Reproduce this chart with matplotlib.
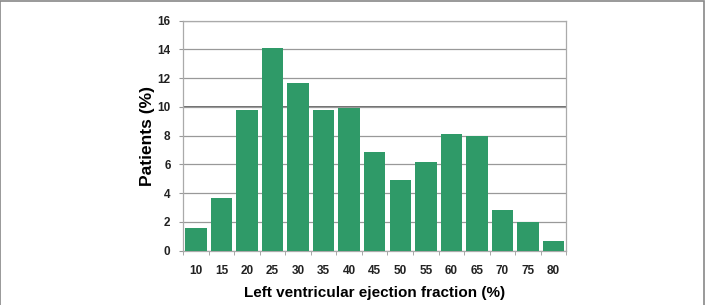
import matplotlib.pyplot as plt
from matplotlib.patches import Rectangle

plt.rcParams["font.family"] = ["Liberation Sans", "DejaVu Sans"]

lvef = ["10", "15", "20", "25", "30", "35", "40", "45", "50", "55", "60", "65", "70", "75", "80"]
patients = [1.6, 3.7, 9.8, 14.1, 11.7, 9.8, 9.9, 6.9, 4.9, 6.2, 8.1, 8.0, 2.8, 2.0, 0.7]

fig = plt.figure(figsize=(7.07, 3.05), dpi=100)
ax = fig.add_axes([0.259, 0.178, 0.542, 0.754])

# 柱子
x = list(range(len(lvef)))
ax.bar(x, patients, width=0.84, color="#2f9a68", zorder=3)

ax.set_xlim(-0.5, len(lvef) - 0.5)
ax.set_ylim(0, 16)
ax.set_yticks(range(0, 17, 2))
ax.set_xticks(x)
ax.set_xticklabels(lvef)
ax.set_xticks([i - 0.5 for i in range(len(lvef) + 1)], minor=True)
ax.tick_params(axis="x", which="major", length=0, pad=10, labelsize=8.5, colors="#222222")
ax.tick_params(axis="x", which="minor", length=3, color="#999999")
ax.tick_params(axis="y", length=3, color="#999999", labelsize=8.5, labelcolor="#222222", pad=6)
for lab in ax.get_xticklabels() + ax.get_yticklabels():
    lab.set_fontweight("bold")

ax.grid(axis="y", color="#999999", linewidth=0.9, zorder=0)
ax.axhline(10, color="#444444", linewidth=1.1, zorder=1)
for s in ax.spines.values():
    s.set_color("#aaaaaa")
    s.set_linewidth(0.9)

ax.set_xlabel("Left ventricular ejection fraction (%)", fontsize=11, fontweight="bold", labelpad=7)
ax.set_ylabel("Patients (%)", fontsize=12.5, fontweight="bold", labelpad=2)

# 外框
fig.patches.append(Rectangle((0.0007, -0.01), 0.9955, 1.008, transform=fig.transFigure,
                             fill=False, edgecolor="#888888", linewidth=1.2))

fig.savefig("out.png", dpi=100)
